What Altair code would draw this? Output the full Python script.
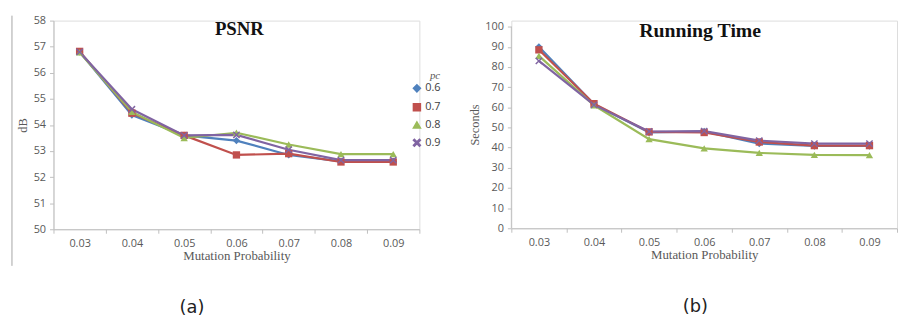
import altair as alt
import pandas as pd

mutation = ["0.03", "0.04", "0.05", "0.06", "0.07", "0.08", "0.09"]
series = ["0.6", "0.7", "0.8", "0.9"]

psnr_06 = [56.8, 54.38, 53.6, 53.4, 52.85, 52.6, 52.6]
psnr_07 = [56.82, 54.45, 53.6, 52.85, 52.9, 52.58, 52.58]
psnr_08 = [56.78, 54.5, 53.5, 53.7, 53.25, 52.88, 52.88]
psnr_09 = [56.8, 54.6, 53.6, 53.62, 53.05, 52.65, 52.65]

rt_06 = [90.0, 61.5, 47.5, 48.0, 42.0, 40.8, 40.8]
rt_07 = [88.5, 61.8, 47.8, 47.5, 42.8, 41.0, 41.0]
rt_08 = [85.5, 61.0, 44.2, 39.6, 37.4, 36.4, 36.3]
rt_09 = [83.0, 61.2, 48.0, 48.2, 43.5, 42.0, 42.0]

psnr_ticks = list(range(50, 59))
rt_ticks = list(range(0, 101, 10))

colors = ["#4F81BD", "#C0504D", "#9BBB59", "#8064A2"]
xshape = "M-1,-0.72L-0.72,-1L0,-0.28L0.72,-1L1,-0.72L0.28,0L1,0.72L0.72,1L0,0.28L-0.72,1L-1,0.72L-0.28,0Z"
shapes = ["diamond", "square", "triangle-up", xshape]


def long_df(cols):
    rows = []
    for s, vals in zip(series, cols):
        for m, v in zip(mutation, vals):
            rows.append({"m": m, "pc": s, "v": v})
    return pd.DataFrame(rows)


psnr_df = long_df([psnr_06, psnr_07, psnr_08, psnr_09])
rt_df = long_df([rt_06, rt_07, rt_08, rt_09])

SANS = "Open Sans"
SERIF = "Liberation Serif"
AX = "#bfbfbf"
LAB = "#595959"


def xenc():
    return alt.X(
        "m:N",
        sort=mutation,
        scale=alt.Scale(type="band", paddingInner=0, paddingOuter=0),
        axis=alt.Axis(
            title="Mutation Probability", labelAngle=0, tickBand="extent",
            domainColor=AX, tickColor=AX, tickSize=4, labelPadding=4,
            labelFont=SANS, labelFontSize=11, labelColor=LAB, labelOverlap=False,
            titleFont=SERIF, titleFontSize=13, titleFontWeight="normal",
            titleColor=LAB, titlePadding=2, grid=False,
        ),
    )


def yaxis(title, values, tpad, domain_line):
    return alt.Axis(
        title=title, values=values, grid=False, labelOverlap=False,
        domain=domain_line,
        domainColor=AX, tickColor=AX, tickSize=4, labelPadding=4,
        labelFont=SANS, labelFontSize=11, labelColor=LAB,
        titleFont=SERIF, titleFontSize=12.5, titleFontWeight="normal",
        titleColor=LAB, titlePadding=tpad,
    )


color_scale = alt.Scale(domain=series, range=colors)
shape_scale = alt.Scale(domain=series, range=shapes)


def panel(df, ydomain, yvals, ytitle, tpad, title, title_size, title_x, title_y,
          width, height, legend, caption, cap_x, cap_y, extra, domain_line=True):
    y = alt.Y("v:Q", scale=alt.Scale(domain=ydomain, nice=False, zero=False),
              axis=yaxis(ytitle, yvals, tpad, domain_line))
    if legend:
        leg = alt.Legend(
            title="pc", orient="none", legendX=362, legendY=50,
            titleFont=SERIF, titleFontStyle="italic", titleFontWeight="normal",
            titleFontSize=11, titleColor=LAB, titlePadding=2,
            labelFont=SANS, labelFontSize=11, labelColor="#404040",
            symbolSize=50, rowPadding=4, labelOffset=3,
            titleAnchor="end",
        )
    else:
        leg = None
    base = alt.Chart(df)
    lines = base.mark_line(strokeWidth=2.2).encode(
        x=xenc(), y=y,
        color=alt.Color("pc:N", scale=color_scale, legend=leg),
        detail="pc:N",
    )
    pts = base.mark_point(filled=True, size=55, opacity=1).encode(
        x=xenc(), y=y,
        color=alt.Color("pc:N", scale=color_scale, legend=leg),
        shape=alt.Shape("pc:N", scale=shape_scale, legend=leg),
    )
    tdf = pd.DataFrame({"t": [title]})
    ttl = alt.Chart(tdf).mark_text(
        font=SERIF, fontSize=title_size, fontWeight="bold", color="#111111",
        baseline="alphabetic", align="center",
    ).encode(x=alt.value(title_x), y=alt.value(title_y), text="t:N")
    cap_df = pd.DataFrame({"t": [caption]})
    cap = alt.Chart(cap_df).mark_text(
        font="DejaVu Sans", fontSize=18, color="#222222", baseline="middle"
    ).encode(x=alt.value(cap_x), y=alt.value(cap_y), text="t:N")
    layers = [lines, pts, ttl, cap]
    for e in extra:
        layers.append(e(y))
    return alt.layer(*layers).properties(width=width, height=height)


def border(y):
    return alt.Chart(pd.DataFrame({"a": [0]})).mark_rule(
        color="#a6a6a6", strokeWidth=1
    ).encode(x=alt.value(-42), y=alt.value(-5), y2=alt.value(248))


def rt_axis_line(y):
    return alt.Chart(pd.DataFrame({"v": [rt_ticks[0]], "v2": [rt_ticks[-1]]})).mark_rule(
        color=AX, strokeWidth=1
    ).encode(x=alt.value(0), y=y, y2="v2:Q")


left = panel(psnr_df, [50, 58], psnr_ticks, "dB", 4, "PSNR", 19, 188, 15,
             370, 211, True, "(a)", 140, 291, [border])
right = panel(rt_df, [0, 103], rt_ticks, "Seconds", 3,
              "Running Time", 20, 191, 17, 390, 210, False, "(b)", 186, 290,
              [rt_axis_line], domain_line=False)

chart = alt.hconcat(left, right, spacing=26).resolve_scale(
    color="independent", shape="independent"
).properties(
    padding={"left": 3, "top": 4, "right": 0, "bottom": 0}
).configure_view(stroke=None).configure(background="white")

chart.save("out.html", embed_options={"renderer": "svg", "actions": False})
